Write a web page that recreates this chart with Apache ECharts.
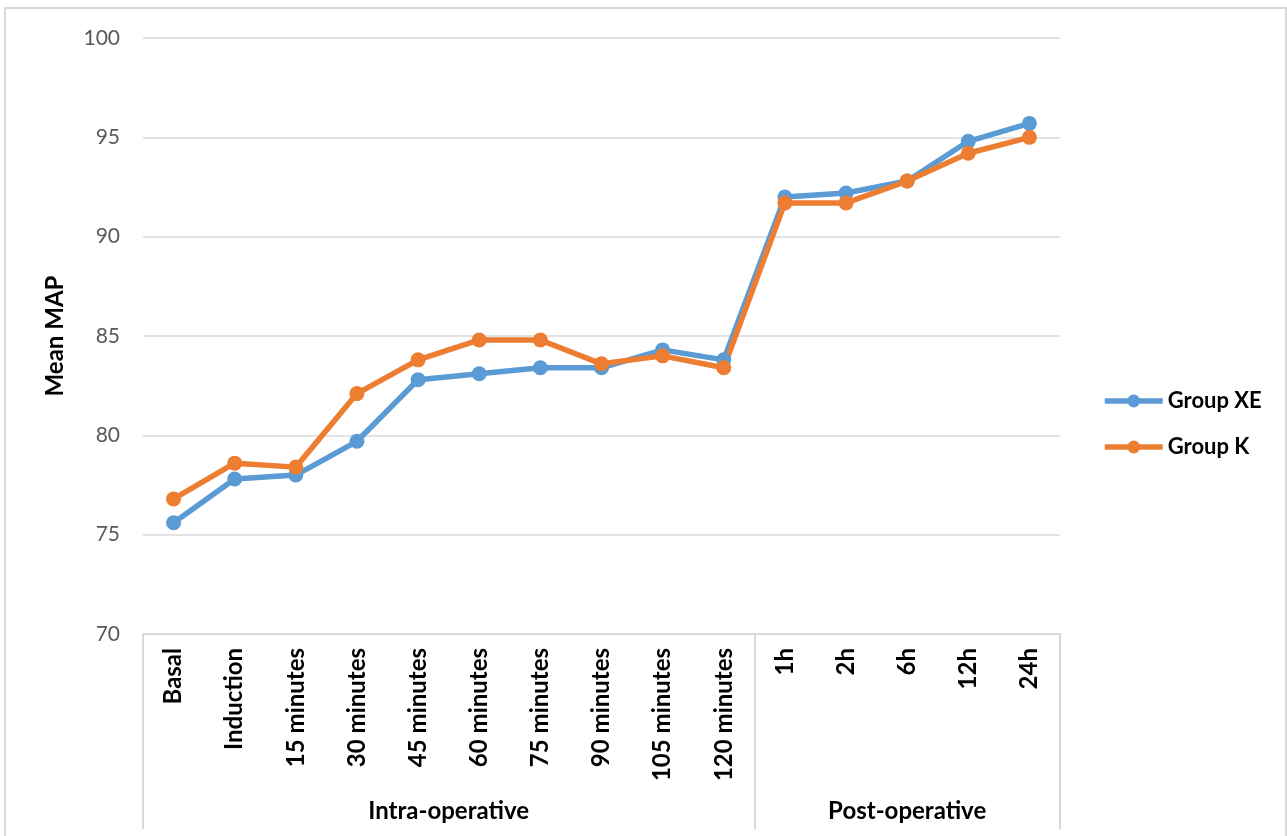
<!DOCTYPE html>
<html>
<head>
<meta charset="utf-8">
<script src="https://cdn.jsdelivr.net/npm/echarts@6/dist/echarts.min.js"></script>
<style>
  html, body { margin: 0; padding: 0; background: #fff; }
  #chart { width: 1287px; height: 836px; }
</style>
</head>
<body>
<div id="chart"></div>
<script>
// Time points of the measurement
const categories = ['Basal', 'Induction', '15 minutes', '30 minutes', '45 minutes', '60 minutes',
  '75 minutes', '90 minutes', '105 minutes', '120 minutes', '1h', '2h', '6h', '12h', '24h'];

// Mean arterial pressure per group
const groupXE = [75.6, 77.8, 78.0, 79.7, 82.8, 83.1, 83.4, 83.4, 84.3, 83.8, 92.0, 92.2, 92.8, 94.8, 95.7];
const groupK  = [76.8, 78.6, 78.4, 82.1, 83.8, 84.8, 84.8, 83.6, 84.0, 83.4, 91.7, 91.7, 92.8, 94.2, 95.0];

// Phase grouping of the time points
const phaseNames = ['Intra-operative', 'Post-operative'];
const phaseSpans = [10, 5];

// Y axis ticks
const yMin = 70, yMax = 100, yStep = 5;

// Phase boundaries and centres in category units
const phaseBounds = [0];
phaseSpans.forEach(s => phaseBounds.push(phaseBounds[phaseBounds.length - 1] + s));
const phaseCentres = phaseSpans.map((s, i) => phaseBounds[i] + s / 2);

const FONT = 'Lato, "Noto Sans", sans-serif';
const GRID_GREY = '#d9d9d9';
const BLUE = '#5B9BD5';
const ORANGE = '#ED7D31';

const chart = echarts.init(document.getElementById('chart'), null, { renderer: 'canvas' });

chart.setOption({
  animation: false,
  backgroundColor: '#ffffff',
  textStyle: { fontFamily: FONT },
  graphic: [{
    type: 'rect',
    silent: true,
    shape: { x: 5, y: 8, width: 1281, height: 900 },
    style: { fill: 'none', stroke: GRID_GREY, lineWidth: 2 }
  }],
  grid: {
    left: 143, right: 227, top: 38, bottom: 202,
    containLabel: false,
    outerBoundsMode: 'none'
  },
  legend: {
    orient: 'vertical',
    left: 1102,
    top: 390,
    padding: 0,
    itemWidth: 58,
    itemHeight: 16,
    itemGap: 24,
    textStyle: { fontFamily: FONT, fontSize: 22, fontWeight: 'bold', color: '#000', lineHeight: 22 },
    data: [
      { name: 'Group XE', lineStyle: { width: 5.5, color: BLUE }, itemStyle: { color: BLUE } },
      { name: 'Group K', lineStyle: { width: 5.5, color: ORANGE }, itemStyle: { color: ORANGE } }
    ]
  },
  xAxis: [{
    type: 'category',
    data: categories,
    boundaryGap: true,
    axisLine: { show: true, lineStyle: { color: GRID_GREY, width: 2 } },
    axisTick: { show: false },
    splitLine: { show: false },
    axisLabel: {
      interval: 0,
      rotate: 90,
      margin: 14,
      color: '#000',
      fontFamily: FONT,
      fontSize: 24,
      fontWeight: 'bold'
    }
  }, {
    // Phase brackets under the time labels
    type: 'value',
    position: 'bottom',
    min: 0,
    max: categories.length,
    axisLine: { show: false },
    splitLine: { show: false },
    axisTick: {
      show: true,
      customValues: phaseBounds,
      length: 195,
      lineStyle: { color: GRID_GREY, width: 2 }
    },
    axisLabel: {
      show: true,
      customValues: phaseCentres,
      margin: 165,
      color: '#000',
      fontFamily: FONT,
      fontSize: 24,
      fontWeight: 'bold',
      formatter: v => {
        const i = phaseCentres.findIndex(c => Math.abs(c - v) < 1e-6);
        return i >= 0 ? phaseNames[i] : '';
      }
    }
  }],
  yAxis: {
    type: 'value',
    min: yMin,
    max: yMax,
    interval: yStep,
    name: 'Mean MAP',
    nameLocation: 'middle',
    nameGap: 76,
    nameTextStyle: { fontFamily: FONT, fontSize: 24, fontWeight: 'bold', color: '#000' },
    axisLine: { show: false },
    axisTick: { show: false },
    axisLabel: { margin: 23, color: '#595959', fontFamily: FONT, fontSize: 21 },
    splitLine: { show: true, lineStyle: { color: GRID_GREY, width: 1.5 } }
  },
  series: [{
    name: 'Group XE',
    type: 'line',
    data: groupXE,
    symbol: 'circle',
    symbolSize: 15,
    color: BLUE,
    lineStyle: { width: 5.5, color: BLUE },
    itemStyle: { color: BLUE }
  }, {
    name: 'Group K',
    type: 'line',
    data: groupK,
    symbol: 'circle',
    symbolSize: 15,
    color: ORANGE,
    lineStyle: { width: 5.5, color: ORANGE },
    itemStyle: { color: ORANGE }
  }]
});
</script>
</body>
</html>
